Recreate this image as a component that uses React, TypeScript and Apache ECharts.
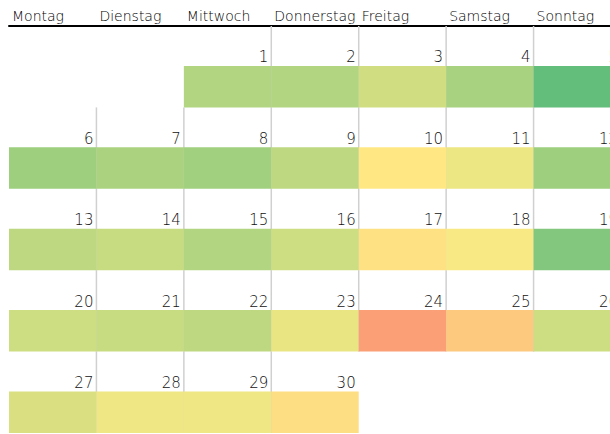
import React, { useEffect, useRef } from "react";
import * as echarts from "echarts";

// Wochentage (Spaltenköpfe)
const weekdays = ["Montag", "Dienstag", "Mittwoch", "Donnerstag", "Freitag", "Samstag", "Sonntag"];
// Tage des Monats
const dayNumbers = [1, 2, 3, 4, 5, 6, 7, 8, 9, 10, 11, 12, 13, 14, 15, 16, 17, 18, 19, 20, 21, 22, 23, 24, 25, 26, 27, 28, 29, 30];
// Wochentag-Index des 1. Tages (0 = Montag)
const firstWeekday = 2;
// Werte je Tag (0 = rot, 50 = gelb, 100 = grün)
const dayValues = [75, 75, 65, 78, 100, 81, 77, 80, 71, 49, 56, 81, 71, 68, 75, 66, 46, 52, 90, 66, 68, 71, 57, 21, 37, 66, 62, 55, 55, 45];
const scaleColors = ["#F8696B", "#FFEB84", "#63BE7B"];

const FONT = "DejaVu Sans";

export default function App() {
  const ref = useRef<HTMLDivElement>(null);
  useEffect(() => {
    if (!ref.current) return;
    const chart = echarts.init(ref.current, null, { renderer: "svg" });
    const data = dayNumbers.map((d, i) => {
      const pos = firstWeekday + i;
      return [pos % 7, Math.floor(pos / 7), dayValues[i], d];
    });
    chart.setOption({
      animation: false,
      backgroundColor: "#fff",
      grid: {
        left: 9,
        top: 26,
        width: 612,
        height: 407,
        containLabel: false,
        outerBoundsMode: "none",
      },
      xAxis: {
        type: "value",
        min: 0,
        max: 7,
        interval: 1,
        position: "top",
        axisLine: { show: true, lineStyle: { color: "#000", width: 2 } },
        axisTick: { show: false },
        splitLine: { show: false },
        axisLabel: {
          margin: 3,
          align: "left",
          padding: [0, 0, 0, 3],
          fontFamily: FONT,
          fontWeight: 200,
          fontSize: 14,
          color: "#000",
          hideOverlap: false,
          formatter: (v: number) => weekdays[v] ?? "",
        },
      },
      yAxis: { type: "value", min: 0, max: 5, inverse: true, show: false },
      visualMap: {
        show: false,
        type: "continuous",
        min: 0,
        max: 100,
        dimension: 2,
        seriesIndex: 0,
        inRange: { color: scaleColors },
      },
      series: [
        {
          type: "custom",
          clip: false,
          data,
          renderItem: (params: any, api: any) => {
            const col = api.value(0);
            const row = api.value(1);
            const day = api.value(3);
            const p0 = api.coord([col, row]);
            const p1 = api.coord([col + 1, row + 1]);
            const w = p1[0] - p0[0];
            const h = p1[1] - p0[1];
            const barTop = p0[1] + h * 0.49;
            const children: any[] = [];
            if (col > 0 && day > 1) {
              children.push({
                type: "line",
                z2: 0,
                shape: { x1: p0[0], y1: p0[1], x2: p0[0], y2: p1[1] },
                style: { stroke: "#d0d0d0", lineWidth: 1.5 },
              });
            }
            children.push({
              type: "rect",
              z2: 1,
              shape: { x: p0[0], y: barTop, width: w, height: p1[1] - barTop },
              style: { fill: api.visual("color") },
            });
            children.push({
              type: "text",
              z2: 2,
              x: p0[0] + w - 3,
              y: barTop - 1,
              style: {
                text: String(day),
                fill: "#111",
                fontFamily: FONT,
                fontWeight: 200,
                fontSize: 15,
                align: "right",
                verticalAlign: "bottom",
              },
            });
            return { type: "group", children };
          },
        },
      ],
    });
    return () => chart.dispose();
  }, []);
  return (
    <div
      ref={ref}
      style={{ position: "absolute", left: 0, top: 0, width: 610, height: 434 }}
    />
  );
}
